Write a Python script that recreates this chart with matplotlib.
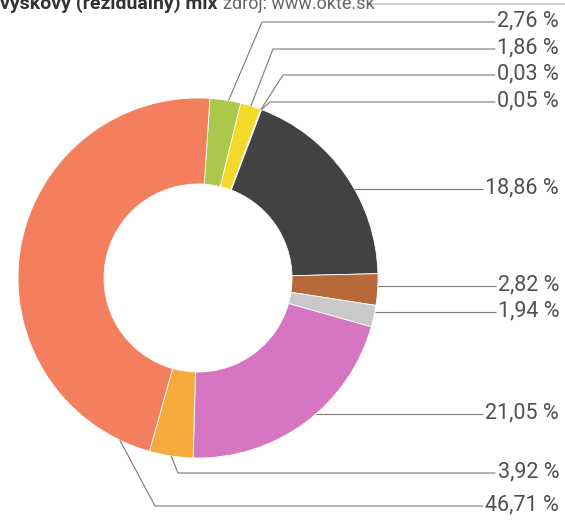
#!/usr/bin/env python3
"""Donut chart of the residual mix shares with leader-line labels."""

import matplotlib
matplotlib.use('Agg')
from matplotlib import pyplot as plt
import numpy as np


# Shares of the mix, clockwise from the top.
SHARES = [2.76, 1.86, 0.03, 0.05, 18.86, 2.82, 1.94, 21.05, 3.92, 46.71]
LABELS = ['2,76 %', '1,86 %', '0,03 %', '0,05 %', '18,86 %',
          '2,82 %', '1,94 %', '21,05 %', '3,92 %', '46,71 %']
COLORS = ['#a9c84c', '#f3d92a', '#8fd3ee', '#4f9fd6', '#424242',
          '#b8693a', '#c9c9c9', '#d676c2', '#f5ab3c', '#f47f5f']
TITLE_BOLD = 'výškový (reziduálny) mix'
TITLE_SOURCE = 'zdroj: www.okte.sk'

# Layout (pixels from top-left of the 565x527 figure).
W, H = 565, 527
CX, CY, R, RING = 198, 278, 180, 86
START = 86.2
LABEL_Y = [22, 49, 75, 102, 189, 286, 312, 414, 473, 506]
# elbow x of each leader; None means a straight horizontal line
ELBOW_X = [262, 273, 283, 270, None, None, None, None, 178, 155]
# where along the wedge the leader starts (0 = start, 1 = end)
ANCHOR = [0.6, 0.5, 0.5, 0.5, 0.5, 0.5, 0.5, 0.5, 0.5, 0.06]
TEXT_RIGHT = 559
FONT = ['Roboto', 'DejaVu Sans']


def main():
    """Draw the ring, the leaders and the labels."""
    fig = plt.figure(figsize=(W / 100, H / 100), dpi=100)
    ax = fig.add_axes([0, 0, 1, 1])
    wedges, _ = ax.pie(SHARES, colors=COLORS, startangle=START,
                       counterclock=False, center=(CX, H - CY), radius=R,
                       wedgeprops=dict(width=RING, edgecolor='white',
                                       linewidth=0.6))
    ax.set_xlim(0, W)
    ax.set_ylim(0, H)
    ax.set_aspect('equal')
    ax.axis('off')

    renderer = fig.canvas.get_renderer()
    inv = ax.transData.inverted()
    for wedge, label, ly, ex, frac in zip(wedges, LABELS, LABEL_Y,
                                          ELBOW_X, ANCHOR):
        y_lab = H - ly
        txt = ax.text(TEXT_RIGHT, y_lab + 1, label, ha='right', va='center',
                      fontsize=15.5, color='#505050', family=FONT)
        line_end = txt.get_window_extent(renderer).transformed(inv).x0 - 2
        if ex is None:
            dy = y_lab - (H - CY)
            x0 = CX + np.sqrt(R ** 2 - dy ** 2)
            xs, ys = [x0, line_end], [y_lab, y_lab]
        else:
            # theta1 < theta2 even for clockwise pies
            ang = np.deg2rad(wedge.theta2 - frac * (wedge.theta2 - wedge.theta1))
            x0 = CX + R * np.cos(ang)
            y0 = H - CY + R * np.sin(ang)
            xs, ys = [x0, ex, line_end], [y0, y_lab, y_lab]
        ax.plot(xs, ys, color='#7a7a7a', lw=0.8, solid_capstyle='butt')

    # title, cut off at the top edge as in the scan
    t = ax.text(0, H - 9, TITLE_BOLD, ha='left', va='baseline',
                fontsize=14, fontweight='bold', color='#333333', family=FONT)
    bb = t.get_window_extent(renderer).transformed(inv)
    ax.text(bb.x1 + 6, H - 9, TITLE_SOURCE, ha='left', va='baseline',
            fontsize=13, color='#666666', family=FONT)
    ax.plot([368, W], [H - 4, H - 4], color='#d0d0d0', lw=1.5)

    fig.savefig('out.png', dpi=100, facecolor='white')


if __name__ == '__main__':
    main()
